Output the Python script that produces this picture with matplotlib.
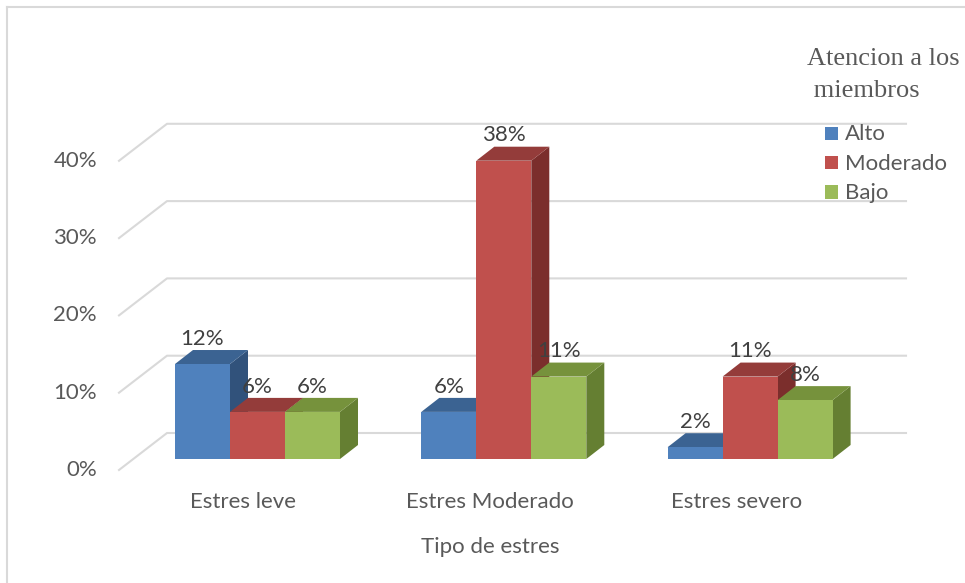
import numpy as np
import matplotlib.pyplot as plt
from matplotlib.patches import Polygon, Rectangle

categories = ['Estres leve', 'Estres Moderado', 'Estres severo']
series = ['Alto', 'Moderado', 'Bajo']
alto = [12.1, 6.0, 1.5]
moderado = [6.0, 38.0, 10.5]
bajo = [6.0, 10.5, 7.5]
alto_labels = ['12%', '6%', '2%']
moderado_labels = ['6%', '38%', '11%']
bajo_labels = ['6%', '11%', '8%']
y_ticks = [0, 10, 20, 30, 40]
y_ticklabels = ['0%', '10%', '20%', '30%', '40%']
legend_title = 'Atencion a los\n miembros'
x_title = 'Tipo de estres'

front_colors = ['#4F81BD', '#C0504D', '#9BBB59']
top_colors = ['#3B6392', '#943C3A', '#76923C']
side_colors = ['#31527B', '#7B2E2C', '#657F32']

plt.rcParams['font.family'] = ['Lato', 'DejaVu Sans']
FS = 16

W, H = 965, 583
fig = plt.figure(figsize=(W / 100, H / 100), dpi=100)
ax = fig.add_axes([0, 0, 1, 1])

# pixel scale of the data space
XS = 246.3   # px per category
YS = 7.85    # px per percent
x0_px, y0_px = 257.5, 459
ax.set_xlim(-x0_px / XS, (W - x0_px) / XS)
ax.set_ylim(-(H - y0_px) / YS, y0_px / YS)
ax.axis('off')

bw = 55 / XS
ddx, ddy = 18 / XS, 14 / YS


def px(x, y):
    # figure pixel (from top-left) -> figure fraction
    return x / W, 1 - y / H


# chart border
fig.add_artist(plt.Line2D([7 / W, 1], [1 - 7 / H, 1 - 7 / H], color='#D9D9D9', lw=1.5))
fig.add_artist(plt.Line2D([7 / W, 7 / W], [0, 1 - 7 / H], color='#D9D9D9', lw=1.5))

# 3d-style gridlines
gx_front = (119 - x0_px) / XS
gx_back = (167 - x0_px) / XS
gx_right = (906 - x0_px) / XS
for t, lab in zip(y_ticks, y_ticklabels):
    yf = (y0_px - 470) / YS + t * 7.73 / YS
    yb = yf + 37 / YS
    ax.plot([gx_front, gx_back, gx_right], [yf, yb, yb], color='#D9D9D9', lw=1.5, zorder=1)
    ax.text((97 - x0_px) / XS, yf, lab, ha='right', va='center', fontsize=FS, color='#595959')

# bars
data = [alto, moderado, bajo]
labels = [alto_labels, moderado_labels, bajo_labels]
z = 5
for i, cat in enumerate(categories):
    for s in range(3):
        v = data[s][i]
        left = i + (s - 1.5) * bw
        right = left + bw
        side = Polygon([(right, 0), (right + ddx, ddy), (right + ddx, v + ddy), (right, v)],
                       closed=True, facecolor=side_colors[s], edgecolor='none', zorder=z)
        top = Polygon([(left, v), (left + ddx, v + ddy), (right + ddx, v + ddy), (right, v)],
                      closed=True, facecolor=top_colors[s], edgecolor='none', zorder=z)
        ax.add_patch(side)
        ax.add_patch(top)
        ax.bar(left, v, width=bw, align='edge', color=front_colors[s], zorder=z + 1)
        z += 2
    for s in range(3):
        v = data[s][i]
        ax.text(i + (s - 1) * bw, v + ddy + 1.45, labels[s][i], ha='center', va='center',
                fontsize=FS, color='#404040', zorder=50)
    ax.text(i - 14 / XS, (y0_px - 502) / YS, cat, ha='center', va='center',
            fontsize=FS, color='#595959')

ax.text((490 - x0_px) / XS, (y0_px - 547) / YS, x_title, ha='center', va='center',
        fontsize=FS, color='#595959')

# legend
title_lines = legend_title.split('\n')
fig.text(*px(807, 65), title_lines[0], ha='left', va='baseline', fontsize=19,
         family='Liberation Serif', color='#595959')
fig.text(*px(807, 97), title_lines[1], ha='left', va='baseline', fontsize=19,
         family='Liberation Serif', color='#595959')
for s, name in enumerate(series):
    cy = 133 + s * 29.5
    fx, fy = px(825, cy + 6.5)
    fig.add_artist(Rectangle((fx, fy), 13 / W, 13 / H, facecolor=front_colors[s],
                             edgecolor='none', transform=fig.transFigure))
    fig.text(*px(845, cy + 7), name, ha='left', va='baseline', fontsize=FS, color='#595959')

fig.savefig('out.png', dpi=100)
